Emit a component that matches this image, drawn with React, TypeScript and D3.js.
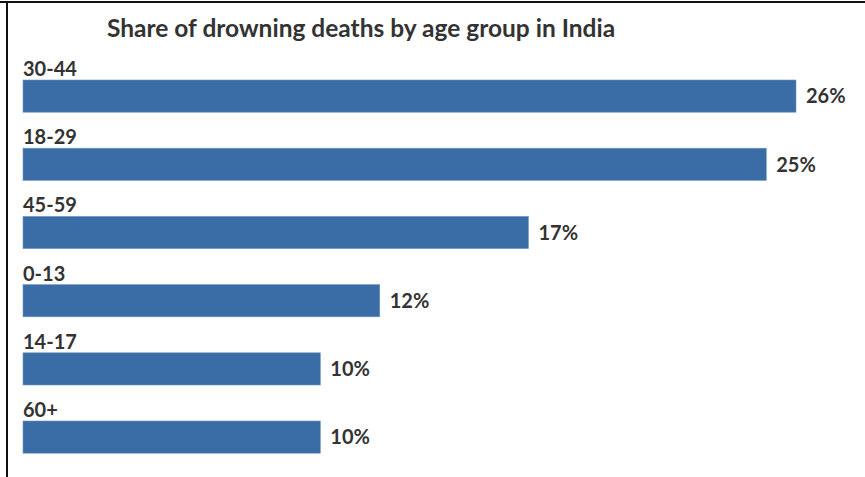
import React from 'react';
import * as d3 from 'd3';

const ageGroups = ['30-44', '18-29', '45-59', '0-13', '14-17', '60+'];
const shares = [26, 25, 17, 12, 10, 10];

const width = 865;
const height = 477;
const barColor = '#3a6ca6';
const textColor = '#333333';
const font = 'Lato, "Open Sans", sans-serif';

const App = () => {
  const data = ageGroups.map((g, i) => ({ group: g, share: shares[i] }));

  const x = d3.scaleLinear().domain([0, 26]).range([23, 796]);

  // step ~68px, bar ~32px
  const bandY = d3
    .scaleBand()
    .domain(ageGroups)
    .range([80, 80 + 68.2 * 6 - 36])
    .paddingInner(36 / 68.2);

  return (
    <svg
      width={width}
      height={height}
      style={{ position: 'absolute', left: 0, top: 0, background: '#fff' }}
    >
      {/* frame */}
      <line x1={0} x2={width} y1={2} y2={2} stroke='#111' strokeWidth={2} />
      <line x1={7} x2={7} y1={1} y2={height} stroke='#111' strokeWidth={2} />

      <text
        x={107}
        y={37}
        fontFamily={font}
        fontWeight={700}
        fontSize={24.5}
        fill={textColor}
      >
        Share of drowning deaths by age group in India
      </text>

      {data.map((d) => {
        const top = bandY(d.group) ?? 0;
        const h = bandY.bandwidth();
        return (
          <g key={d.group}>
            <text
              x={x(0)}
              y={top - 4}
              fontFamily={font}
              fontWeight={700}
              fontSize={20}
              fill={textColor}
            >
              {d.group}
            </text>
            <rect
              x={x(0)}
              y={top}
              width={x(d.share) - x(0)}
              height={h}
              fill={barColor}
              stroke='#6f96c4'
              strokeWidth={0.6}
            />
            <text
              x={x(d.share) + 10}
              y={top + h / 2}
              dy='0.36em'
              fontFamily={font}
              fontWeight={700}
              fontSize={20}
              fill={textColor}
            >
              {d.share}%
            </text>
          </g>
        );
      })}
    </svg>
  );
};

export default App;
